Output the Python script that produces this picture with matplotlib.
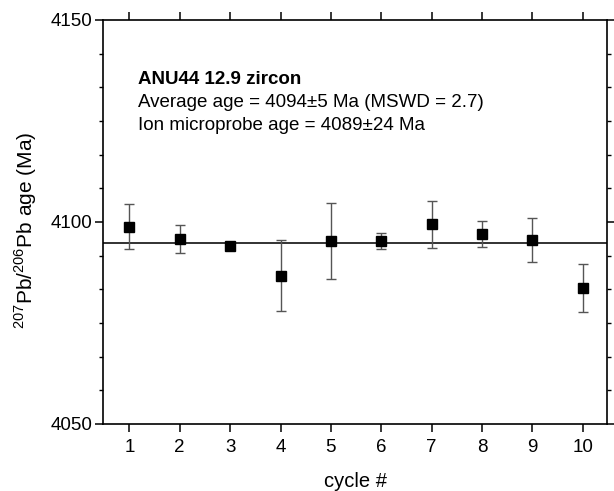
import matplotlib
matplotlib.use("Agg")
import matplotlib.pyplot as plt
from matplotlib.ticker import AutoMinorLocator

plt.rcParams['font.family'] = ['Liberation Sans', 'DejaVu Sans']
plt.rcParams['mathtext.fontset'] = 'custom'
plt.rcParams['mathtext.rm'] = 'Liberation Sans'

# data
cycles = [1, 2, 3, 4, 5, 6, 7, 8, 9, 10]
ages = [4098.8, 4095.8, 4094.0, 4086.7, 4095.3, 4095.2, 4099.4, 4097.0, 4095.6, 4083.7]
errs = [5.6, 3.4, 0.8, 8.8, 9.5, 2.0, 5.8, 3.2, 5.5, 6.0]
mean_age = 4094.7

fig = plt.figure(figsize=(6.14, 4.91), dpi=100)
ax = fig.add_axes([0.168, 0.1365, 0.8206, 0.8228])

ax.errorbar(cycles, ages, yerr=errs, fmt='none', ecolor='#555555',
            elinewidth=1.0, capsize=3.5, capthick=1.0, zorder=2)
ax.plot(cycles, ages, 's', color='black', markersize=6.5, zorder=3)
ax.axhline(mean_age, color='#222222', lw=1.3, zorder=1)

ax.set_xlim(0.48, 10.48)
ax.set_ylim(4050, 4150)
ax.set_xticks(cycles)
ax.set_yticks([4050, 4100, 4150])
ax.yaxis.set_minor_locator(AutoMinorLocator(6))

ax.tick_params(axis='both', which='major', direction='out', length=6, width=1.1,
               labelsize=13.5, colors='black')
ax.tick_params(axis='x', which='major', top=True, labeltop=False, pad=5)
ax.tick_params(axis='y', which='major', right=True, labelright=False, pad=2)
ax.tick_params(axis='y', which='minor', direction='out', length=3, width=1.0,
               right=True)
for s in ax.spines.values():
    s.set_linewidth(1.2)

ax.set_xlabel('cycle #', fontsize=14.5, labelpad=11)
ax.set_ylabel(r'$^{207}$Pb/$^{206}$Pb age (Ma)', fontsize=15)
ax.yaxis.set_label_coords(-0.128, 0.48)

ax.text(0.069, 0.842, 'ANU44 12.9 zircon', transform=ax.transAxes,
        fontsize=13.5, fontweight='bold')
ax.text(0.069, 0.785, 'Average age = 4094\u00b15 Ma (MSWD = 2.7)', transform=ax.transAxes,
        fontsize=13.5)
ax.text(0.069, 0.728, 'Ion microprobe age = 4089\u00b124 Ma', transform=ax.transAxes,
        fontsize=13.5)

fig.savefig('out.png', dpi=100)
